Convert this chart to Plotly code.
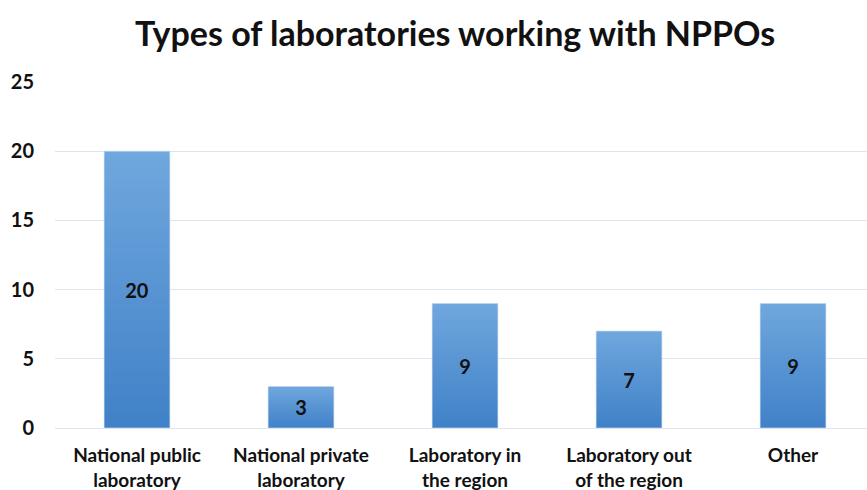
import plotly.graph_objects as go

# Survey counts by laboratory type
categories = [
    "National public<br>laboratory",
    "National private<br>laboratory",
    "Laboratory in<br>the region",
    "Laboratory out<br>of the region",
    "Other",
]
counts = [20, 3, 9, 7, 9]
y_ticks = [0, 5, 10, 15, 20, 25]

FONT = "Lato"
TOP_RGB = (112, 167, 222)
BOTTOM_RGB = (64, 129, 199)
N_STEPS = 60
BAR_WIDTH = 0.40

xs = list(range(len(categories)))
fig = go.Figure()

# Vertical gradient: nested bars from the base, each shorter one painted darker on top
for i in range(N_STEPS):
    frac = (N_STEPS - i) / N_STEPS
    t = (N_STEPS - i - 0.5) / N_STEPS
    r, g, b = (round(BOTTOM_RGB[k] + (TOP_RGB[k] - BOTTOM_RGB[k]) * t) for k in range(3))
    fig.add_trace(go.Bar(
        x=xs,
        y=[v * frac for v in counts],
        width=BAR_WIDTH,
        marker=dict(color=f"rgb({r},{g},{b})", line=dict(width=0)),
        hoverinfo="skip",
        showlegend=False,
    ))

# Full-height bar carrying the value label
fig.add_trace(go.Bar(
    x=xs,
    y=counts,
    width=BAR_WIDTH,
    marker=dict(color="rgba(0,0,0,0)", line=dict(color="rgba(190,215,240,0.7)", width=1)),
    text=[str(v) for v in counts],
    textposition="inside",
    insidetextanchor="middle",
    textangle=0,
    textfont=dict(family=FONT, size=20, color="#111111", weight="bold"),
    showlegend=False,
))

fig.update_layout(
    width=867,
    height=490,
    barmode="overlay",
    plot_bgcolor="white",
    paper_bgcolor="white",
    margin=dict(l=55, r=0, t=82, b=62),
    title=dict(
        text="<b>Types of laboratories working with NPPOs</b>",
        x=0.525, xanchor="center",
        y=0.93, yanchor="middle",
        font=dict(family=FONT, size=34, color="#111111"),
    ),
    uniformtext=dict(mode=False),
)

fig.update_xaxes(
    range=[-0.5, 4.451],
    tickvals=xs,
    ticktext=[f"<b>{c}</b>" for c in categories],
    tickfont=dict(family=FONT, size=19, color="#111111"),
    showgrid=False,
    showline=False,
    ticks="",
    ticklabelstandoff=14,
)
fig.update_yaxes(
    range=[0, 25],
    tickvals=y_ticks,
    ticktext=[f"<b>{t}</b>" for t in y_ticks],
    tickfont=dict(family=FONT, size=20, color="#111111"),
    showgrid=True,
    gridcolor="#DFE5EE",
    gridwidth=1,
    zeroline=True,
    zerolinecolor="#DFE5EE",
    zerolinewidth=1,
    ticks="",
    ticklabelstandoff=20,
)

fig.write_html("out.html")
